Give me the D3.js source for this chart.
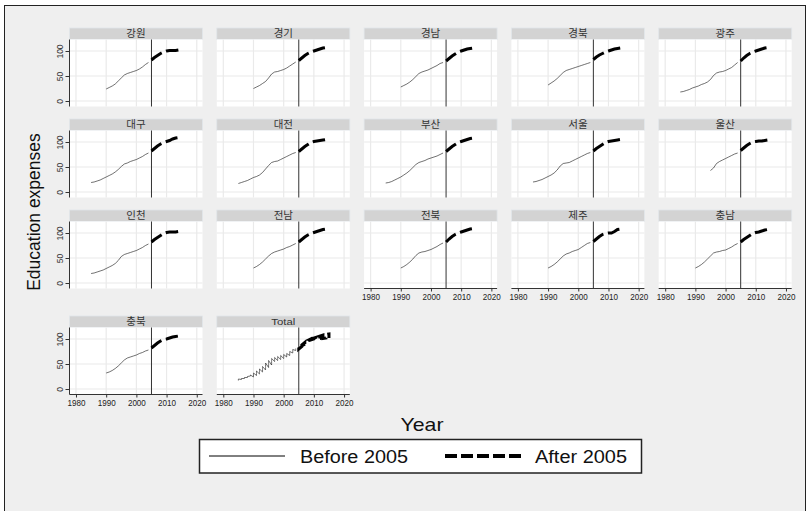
<!DOCTYPE html>
<html><head><meta charset="utf-8">
<script src="https://cdn.jsdelivr.net/npm/d3@7"></script>
<style>body{margin:0;background:#fff}svg{display:block}</style>
</head><body><svg id="c" width="810" height="511"></svg>
<script>
// ---- data ----
const regions = ["강원","경기","경남","경북","광주","대구","대전","부산","서울","울산","인천","전남","전북","제주","충남","충북"];
const startYears = [1990,1990,1990,1990,1985,1985,1985,1985,1985,1995,1985,1990,1990,1990,1990,1990];
const xTicks = [1980,1990,2000,2010,2020];
const yTicks = [0,50,100];
const breakYear = 2005;
// values before 2005 (from start year up to 2004)
const gangwonBefore = [24,27,30,34,40,46,52,55,57,59,61,64,68,73,77];
const gyeonggiBefore = [25,28,31,35,39,46,54,58,59,61,63,66,70,74,78];
const gyeongnamBefore = [28,31,34,38,43,49,55,58,60,62,65,68,71,75,77];
const gyeongbukBefore = [32,36,40,45,51,57,61,63,65,67,69,71,73,75,77];
const gwangjuBefore = [18,19,21,23,26,28,30,33,35,38,43,51,56,58,59,61,64,67,72,77];
const daeguBefore = [19,20,22,24,27,30,33,36,40,45,51,56,58,61,63,65,68,71,75,78];
const daejeonBefore = [17,19,21,23,26,29,31,34,39,46,53,59,61,62,65,68,71,74,77,79];
const busanBefore = [18,19,21,24,27,30,34,38,43,49,55,59,61,63,66,68,70,72,75,78];
const seoulBefore = [20,21,23,25,28,31,34,38,44,52,57,58,59,62,65,68,71,74,77,79];
const ulsanBefore = [43,48,57,61,64,67,70,73,76,78];
const incheonBefore = [19,20,22,24,26,29,32,35,39,45,53,57,59,61,63,65,68,71,75,78];
const jeonnamBefore = [30,33,37,42,48,54,59,62,64,66,68,71,73,76,79];
const jeonbukBefore = [30,33,37,42,48,55,60,62,63,65,67,70,73,77,80];
const jejuBefore = [30,33,37,42,48,54,58,60,63,65,67,71,75,79,81];
const chungnamBefore = [30,33,37,42,48,54,60,62,63,65,66,69,72,76,79];
const chungbukBefore = [32,34,37,41,46,52,58,62,64,66,68,71,73,76,78];
// values from 2005 to 2015
const gangwonAfter = [82,87,91,95,98,100,101,101,101,102,102];
const gyeonggiAfter = [81,86,91,95,98,100,102,104,106,107,108];
const gyeongnamAfter = [80,85,90,94,98,100,102,104,105,106,107];
const gyeongbukAfter = [83,88,92,95,98,100,102,104,105,106,107];
const gwangjuAfter = [80,86,91,95,98,100,102,104,106,107,108];
const daeguAfter = [82,87,92,96,99,101,103,106,108,109,110];
const daejeonAfter = [81,86,91,95,99,101,102,103,104,105,106];
const busanAfter = [81,86,91,95,99,101,103,105,107,108,109];
const seoulAfter = [82,87,91,95,99,101,102,103,104,105,106];
const ulsanAfter = [83,88,93,97,100,101,102,102,103,104,104];
const incheonAfter = [82,87,91,95,99,101,102,102,102,103,103];
const jeonnamAfter = [82,87,92,96,99,101,103,105,107,108,109];
const jeonbukAfter = [82,88,93,97,100,102,104,106,108,109,110];
const jejuAfter = [83,88,93,97,99,100,100,103,107,108,109];
const chungnamAfter = [82,87,91,95,99,101,102,104,106,107,108];
const chungbukAfter = [82,87,92,96,99,100,102,104,105,106,107];

const beforeList = [gangwonBefore,gyeonggiBefore,gyeongnamBefore,gyeongbukBefore,gwangjuBefore,daeguBefore,daejeonBefore,busanBefore,seoulBefore,ulsanBefore,incheonBefore,jeonnamBefore,jeonbukBefore,jejuBefore,chungnamBefore,chungbukBefore];
const afterList = [gangwonAfter,gyeonggiAfter,gyeongnamAfter,gyeongbukAfter,gwangjuAfter,daeguAfter,daejeonAfter,busanAfter,seoulAfter,ulsanAfter,incheonAfter,jeonnamAfter,jeonbukAfter,jejuAfter,chungnamAfter,chungbukAfter];

// ---- build series ----
const series = regions.map((r,i)=>({
  name:r,
  before: beforeList[i].map((v,j)=>({year:startYears[i]+j, value:v})),
  after: afterList[i].map((v,j)=>({year:breakYear+j, value:v}))
}));
// Total panel: all observations pooled, ordered by year
const pooledB=[], pooledA=[];
series.forEach(s=>{pooledB.push(...s.before);pooledA.push(...s.after);});
const byYearAsc=(a,b)=>a.year-b.year||a.value-b.value;
const byYearAlt=(a,b)=>a.year-b.year||(a.year%2? b.value-a.value : a.value-b.value);
series.push({name:"Total", before: pooledB.slice().sort(byYearAsc), after: pooledA.slice().sort(byYearAlt)});

// ---- layout ----
const svg=d3.select("#c");
const font="'Liberation Sans', Arial, sans-serif";
svg.append("rect").attr("x",4.5).attr("y",5.5).attr("width",801).attr("height",540)
  .attr("fill","#efefef").attr("stroke","#222").attr("stroke-width",1);

const colX=[69.5,216.8,364.1,511.4,658.7];
const rowStrip=[28,119,210,316];
const panelW=133, stripH=11.5;
const xAxisPanels=new Set(["2-2","2-3","2-4","3-0","3-1"]);

series.forEach((s,i)=>{
  const row=Math.floor(i/5), col=i%5;
  const x0=colX[col], sTop=rowStrip[row], pTop=sTop+stripH;
  const pBot=pTop+67;
  const x=d3.scaleLinear().domain([1977.85,2021.9]).range([x0,x0+panelW]);
  const y=d3.scaleLinear().domain([-11,123]).range([pBot,pTop]);
  const g=svg.append("g");
  // strip
  g.append("rect").attr("x",x0).attr("y",sTop).attr("width",panelW).attr("height",stripH)
    .attr("fill","#d3d3d3").attr("stroke","#e2e6ea").attr("stroke-width",0.8);
  const st=g.append("text").attr("x",x0+panelW/2).attr("y",sTop+9.4).attr("text-anchor","middle")
    .attr("font-family",s.name==="Total"?font:"'Noto Sans CJK KR', sans-serif")
    .attr("font-size",s.name==="Total"?9.5:10.5).attr("fill","#333").text(s.name);
  if(s.name==="Total") st.attr("textLength",24).attr("lengthAdjust","spacingAndGlyphs");
  // plot bg
  g.append("rect").attr("x",x0).attr("y",pTop).attr("width",panelW).attr("height",pBot-pTop).attr("fill","#fff");
  // grids
  g.selectAll(".vg").data(xTicks).join("line").attr("x1",d=>x(d)).attr("x2",d=>x(d))
    .attr("y1",pTop).attr("y2",pBot).attr("stroke","#eaeaea").attr("stroke-width",1.2);
  g.selectAll(".hg").data(yTicks).join("line").attr("y1",d=>y(d)).attr("y2",d=>y(d))
    .attr("x1",x0).attr("x2",x0+panelW).attr("stroke","#eaeaea").attr("stroke-width",1.2);
  // 2005 line
  g.append("line").attr("x1",x(breakYear)).attr("x2",x(breakYear)).attr("y1",pTop).attr("y2",pBot)
    .attr("stroke","#333").attr("stroke-width",1);
  const line=d3.line().x(d=>x(d.year)).y(d=>y(d.value));
  g.append("path").attr("d",line(s.before)).attr("fill","none").attr("stroke","#111").attr("stroke-width",0.6);
  g.append("path").attr("d",line(s.after)).attr("fill","none").attr("stroke","#000").attr("stroke-width",3)
    .attr("stroke-dasharray","12.5,4.6");
  // y axis
  if(col===0){
    const ya=d3.axisLeft(y).tickValues(yTicks).tickSize(4).tickPadding(2);
    const ag=g.append("g").attr("transform",`translate(${x0},0)`).call(ya);
    ag.select(".domain").attr("d",`M0,${pTop}V${pBot}`).attr("stroke","#333");
    ag.selectAll(".tick line").attr("stroke","#333");
    ag.selectAll(".tick text").attr("font-family",font).attr("font-size",8.5).attr("fill","#333")
      .attr("text-anchor","middle").attr("x",0).attr("dy",0)
      .attr("transform","translate(-9.5,0) rotate(-90)").attr("y",3);
  }
  if(xAxisPanels.has(row+"-"+col)){
    const xa=d3.axisBottom(x).tickValues(xTicks).tickFormat(d3.format("d")).tickSize(3).tickPadding(2);
    const ag=g.append("g").attr("transform",`translate(0,${pBot})`).call(xa);
    ag.select(".domain").attr("d",`M${x0},0H${x0+panelW}`).attr("stroke","#333");
    ag.selectAll(".tick line").attr("stroke","#333");
    ag.selectAll(".tick text").attr("font-family",font).attr("font-size",9).attr("fill","#222")
      .attr("textLength",18).attr("lengthAdjust","spacingAndGlyphs");
  }
});

// titles
svg.append("text").attr("transform","translate(40,212) rotate(-90)").attr("text-anchor","middle")
  .attr("font-family",font).attr("font-size",17.5).attr("fill","#111").text("Education expenses");
svg.append("text").attr("x",422).attr("y",431).attr("text-anchor","middle")
  .attr("font-family",font).attr("font-size",18.5).attr("fill","#111")
  .attr("textLength",43).attr("lengthAdjust","spacingAndGlyphs").text("Year");

// legend
const lg=svg.append("g");
lg.append("rect").attr("x",199.5).attr("y",439.5).attr("width",442).attr("height",33.5)
  .attr("fill","#fff").attr("stroke","#222").attr("stroke-width",1.5);
lg.append("line").attr("x1",209).attr("x2",285).attr("y1",456).attr("y2",456).attr("stroke","#000").attr("stroke-width",1);
lg.append("text").attr("x",300).attr("y",463).attr("font-family",font).attr("font-size",18).attr("fill","#111")
  .attr("textLength",108).attr("lengthAdjust","spacingAndGlyphs").text("Before 2005");
lg.append("line").attr("x1",445).attr("x2",522).attr("y1",456).attr("y2",456).attr("stroke","#000").attr("stroke-width",4)
  .attr("stroke-dasharray","12,4");
lg.append("text").attr("x",535).attr("y",463).attr("font-family",font).attr("font-size",18).attr("fill","#111")
  .attr("textLength",92).attr("lengthAdjust","spacingAndGlyphs").text("After 2005");
</script></body></html>
